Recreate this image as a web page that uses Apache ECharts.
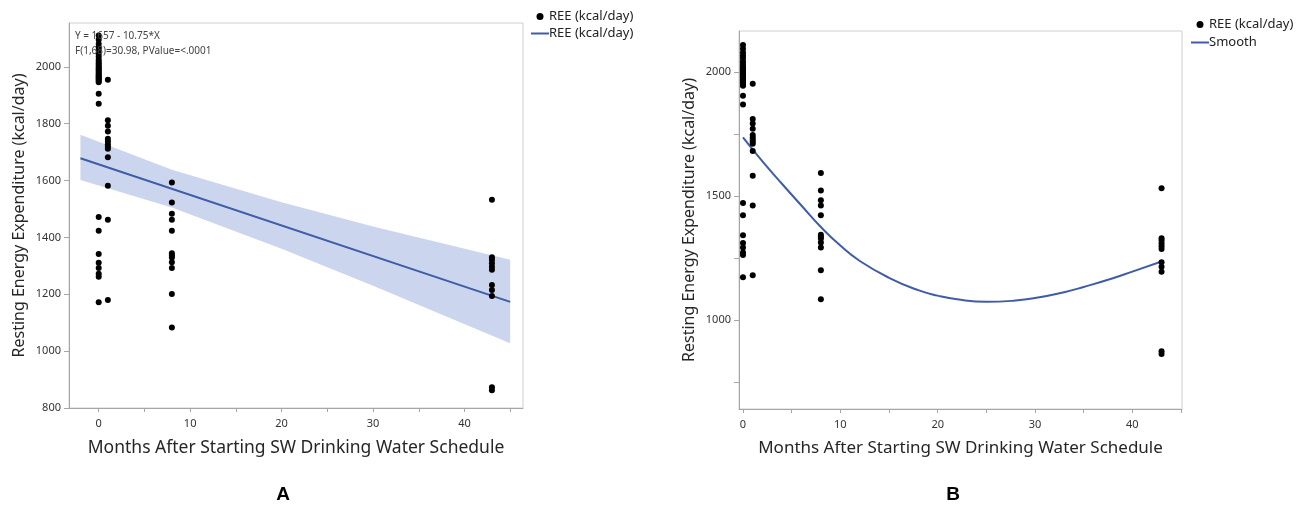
<!DOCTYPE html>
<html>
<head>
<meta charset="utf-8">
<script src="https://cdn.jsdelivr.net/npm/echarts@6/dist/echarts.min.js"></script>
<style>
  html, body { margin: 0; padding: 0; background: #ffffff; }
  #chart { width: 1308px; height: 505px; }
</style>
</head>
<body>
<div id="chart"></div>
<script>
// Resting energy expenditure (kcal/day) by months after starting the SW drinking water schedule
const months = [0, 1, 8, 43];
const reeMonth0 = [2110, 2095, 2080, 2068, 2058, 2045, 2035, 2025, 2018, 2012, 2006, 2000,
  1995, 1990, 1985, 1980, 1975, 1970, 1966, 1962, 1958, 1954, 1950, 1946, 1905, 1870,
  1472, 1423, 1342, 1311, 1292, 1272, 1262, 1172];
const reeMonth1 = [1954, 1812, 1793, 1772, 1747, 1737, 1728, 1720, 1712, 1682, 1582, 1462, 1180];
const reeMonth8 = [1593, 1523, 1483, 1462, 1423, 1344, 1336, 1329, 1313, 1292, 1201, 1083];
const reeMonth43 = [1532, 1330, 1321, 1309, 1297, 1286, 1233, 1215, 1194, 873, 862];

// Linear fit  Y = 1657 - 10.75*X  and its confidence band
const fitIntercept = 1657;
const fitSlope = -10.75;
const fitRange = [-2, 45];
const bandX = [-2, 8, 20, 30, 45];
const bandUpper = [1761, 1638, 1524, 1438, 1321];
const bandLower = [1602, 1505, 1360, 1230, 1028];

// Smoothing spline
const smoothX = [0, 2, 4, 6, 8, 10, 12, 15, 18, 20, 22, 25, 28, 30, 33, 35, 38, 40, 43];
const smoothY = [1737, 1640, 1550, 1462, 1375, 1300, 1238, 1170, 1120, 1098, 1083, 1073, 1078, 1088, 1112, 1133, 1168, 1195, 1236];

// Axis ticks and labels
const xLabelsA = [0, 10, 20, 30, 40];
const xTicks = [0, 5, 10, 15, 20, 25, 30, 35, 40, 45];
const yLabelsA = [800, 1000, 1200, 1400, 1600, 1800, 2000];
const yLabelsB = [1000, 1500, 2000];
const yTicksB = [750, 1000, 1250, 1500, 1750, 2000];

const xTitle = 'Months After Starting SW Drinking Water Schedule';
const yTitle = 'Resting Energy Expenditure (kcal/day)';
const legendPoint = 'REE (kcal/day)';

const points = [];
[reeMonth0, reeMonth1, reeMonth8, reeMonth43].forEach((vals, i) => {
  vals.forEach(v => points.push([months[i], v]));
});
const fitLine = fitRange.map(x => [x, fitIntercept + fitSlope * x]);
const bandPoly = bandX.map((x, i) => [x, bandUpper[i]])
  .concat(bandX.map((x, i) => [x, bandLower[i]]).reverse());
const smoothLine = smoothX.map((x, i) => [x, smoothY[i]]);

const FONT = 'Noto Sans';
const BLUE = '#3f5ca8';
const AXIS_GRAY = '#a6a6a6';
const LINE_ICON = 'path://M0,0H18V2H0Z';

function xAxis(gridIndex, min, max, titleSize) {
  return {
    type: 'value', gridIndex, min, max,
    name: xTitle, nameLocation: 'middle', nameGap: 31,
    nameTextStyle: { fontFamily: FONT, fontSize: titleSize, color: '#262626' },
    axisLine: { show: true, onZero: false, lineStyle: { color: AXIS_GRAY } },
    axisTick: { show: true, length: 4, customValues: xTicks, lineStyle: { color: AXIS_GRAY } },
    axisLabel: { customValues: xLabelsA, formatter: v => String(v), fontFamily: FONT, fontSize: 11, color: '#333', margin: 10 },
    splitLine: { show: false }
  };
}
function yAxis(gridIndex, min, max, labels, ticks, gap) {
  return {
    type: 'value', gridIndex, min, max,
    name: yTitle, nameLocation: 'middle', nameGap: gap, nameRotate: 90,
    nameTextStyle: { fontFamily: FONT, fontSize: 16, color: '#262626' },
    axisLine: { show: true, onZero: false, lineStyle: { color: AXIS_GRAY } },
    axisTick: { show: true, length: 5, customValues: ticks, lineStyle: { color: AXIS_GRAY } },
    axisLabel: { customValues: labels, formatter: v => String(v), fontFamily: FONT, fontSize: 11, color: '#333', margin: 8 },
    splitLine: { show: false }
  };
}

const chart = echarts.init(document.getElementById('chart'), null, { renderer: 'canvas' });
chart.setOption({
  animation: false,
  backgroundColor: '#ffffff',
  grid: [
    { left: 69, top: 23, width: 454, height: 385, show: true, borderColor: '#cfcfcf', borderWidth: 1, backgroundColor: 'transparent' },
    { left: 739, top: 31, width: 443, height: 378, show: true, borderColor: '#cfcfcf', borderWidth: 1, backgroundColor: 'transparent' }
  ],
  xAxis: [xAxis(0, -3.25, 46.4, 17.5), xAxis(1, -0.41, 45.1, 17)],
  yAxis: [
    yAxis(0, 800, 2154, yLabelsA, yLabelsA, 42),
    yAxis(1, 640, 2167, yLabelsB, yTicksB, 42)
  ],
  title: [
    { text: 'A', left: 278, top: 480, textAlign: 'center', textStyle: { fontFamily: 'Liberation Sans', fontSize: 19, fontWeight: 'bold', color: '#000' } },
    { text: 'B', left: 948, top: 480, textAlign: 'center', textStyle: { fontFamily: 'Liberation Sans', fontSize: 19, fontWeight: 'bold', color: '#000' } }
  ],
  legend: [
    {
      orient: 'vertical', left: 526, top: 5, itemWidth: 18, itemHeight: 7, itemGap: 4,
      data: [{ name: 'REE A', icon: 'circle' }, { name: 'Fit A', icon: LINE_ICON }],
      formatter: () => legendPoint,
      textStyle: { fontFamily: FONT, fontSize: 13, color: '#222', padding: [0, 0, 0, -5] },
      selectedMode: false
    },
    {
      orient: 'vertical', left: 1186, top: 13, itemWidth: 18, itemHeight: 7, itemGap: 5,
      data: [{ name: 'REE B', icon: 'circle' }, { name: 'Smooth', icon: LINE_ICON }],
      formatter: name => (name === 'Smooth' ? 'Smooth' : legendPoint),
      textStyle: { fontFamily: FONT, fontSize: 13, color: '#222', padding: [0, 0, 0, -5] },
      selectedMode: false
    }
  ],
  graphic: [
    { type: 'text', left: 75, top: 31, style: { text: 'Y = 1657 - 10.75*X', fontFamily: FONT, fontSize: 10, fill: '#444' }, z: 10 },
    { type: 'text', left: 75, top: 46, style: { text: 'F(1,68)=30.98, PValue=<.0001', fontFamily: FONT, fontSize: 10, fill: '#444' }, z: 10 }
  ],
  series: [
    {
      name: 'Band A', type: 'custom', xAxisIndex: 0, yAxisIndex: 0, z: 1, silent: true,
      data: [0],
      renderItem: (params, api) => ({
        type: 'polygon',
        shape: { points: bandPoly.map(p => api.coord(p)) },
        style: { fill: '#ccd5ee', stroke: null }
      })
    },
    {
      name: 'Fit A', type: 'line', xAxisIndex: 0, yAxisIndex: 0, z: 3,
      data: fitLine, showSymbol: false, symbol: 'none',
      lineStyle: { color: BLUE, width: 2 }, itemStyle: { color: BLUE }
    },
    {
      name: 'REE A', type: 'scatter', xAxisIndex: 0, yAxisIndex: 0, z: 4,
      data: points, symbolSize: 6, itemStyle: { color: '#000', opacity: 1 }
    },
    {
      name: 'Smooth', type: 'line', xAxisIndex: 1, yAxisIndex: 1, z: 3,
      data: smoothLine, smooth: true, showSymbol: false, symbol: 'none',
      lineStyle: { color: BLUE, width: 2 }, itemStyle: { color: BLUE }
    },
    {
      name: 'REE B', type: 'scatter', xAxisIndex: 1, yAxisIndex: 1, z: 4,
      data: points, symbolSize: 6, itemStyle: { color: '#000', opacity: 1 }
    }
  ]
});
</script>
</body>
</html>
